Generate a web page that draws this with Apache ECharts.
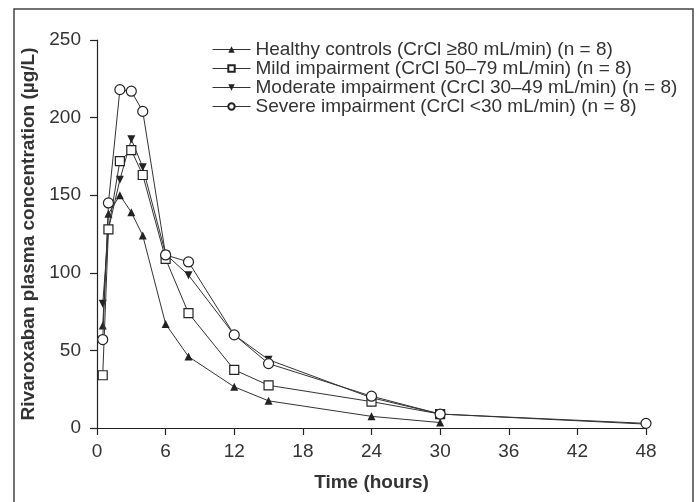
<!DOCTYPE html>
<html>
<head>
<meta charset="utf-8">
<script src="https://cdn.jsdelivr.net/npm/echarts@6/dist/echarts.min.js"></script>
<style>
  html, body { margin: 0; padding: 0; background: #fff; }
  #chart { width: 696px; height: 502px; }
</style>
</head>
<body>
<div id="chart"></div>
<script>
// sampling times (hours)
const times = [0.5, 1, 2, 3, 4, 6, 8, 12, 15, 24, 30, 48];

// mean plasma concentrations (µg/L)
const healthy  = [66, 138, 150, 139, 124, 67, 46, 26.5, 17.5, 7.5, 3.5, null];
const mild     = [34, 128, 172, 179, 163, 109, 74, 37.5, 27.5, 17, 9, null];
const moderate = [80, 128, 160, 186, 168, 112, 98.5, 60, 44, 19.5, 9, 2.5];
const severe   = [57, 145, 218, 217, 204, 111.5, 107, 60, 41.5, 20.5, 9, 3];

const groupNames = [
    'Healthy controls (CrCl \u226580 mL/min) (n = 8)',
    'Mild impairment (CrCl 50\u201379 mL/min) (n = 8)',
    'Moderate impairment (CrCl 30\u201349 mL/min) (n = 8)',
    'Severe impairment (CrCl <30 mL/min) (n = 8)'
];

const xTicks = { min: 0, max: 48, interval: 6 };
const yTicks = { min: 0, max: 250, interval: 50 };

const ink = '#222';
const font = 'Liberation Sans, Arial, Helvetica, sans-serif';

function pairs(vals) {
    return times.map((t, i) => [t, vals[i]]).filter(p => p[1] != null);
}

function makeSeries(name, vals, symbol, size, hollow) {
    return {
        name: name,
        type: 'line',
        data: pairs(vals),
        symbol: symbol,
        symbolSize: size,
        showAllSymbol: true,
        lineStyle: { color: '#333', width: 1 },
        itemStyle: hollow
            ? { color: '#fff', borderColor: ink, borderWidth: 1.2 }
            : { color: ink, borderColor: ink, borderWidth: 0 },
        emphasis: { disabled: true },
        z: hollow ? 3 : 2
    };
}

const chart = echarts.init(document.getElementById('chart'));
chart.setOption({
    animation: false,
    backgroundColor: '#fff',
    textStyle: { fontFamily: font },
    graphic: [{
        type: 'rect',
        shape: { x: 14, y: 9, width: 679, height: 520 },
        style: { fill: 'none', stroke: '#444', lineWidth: 1.5 },
        silent: true
    }],
    grid: { left: 97, right: 50, top: 40, bottom: 74 },
    legend: {
        left: 207,
        top: 35,
        orient: 'vertical',
        itemWidth: 38,
        itemHeight: 8,
        itemGap: 0,
        lineStyle: { width: 1 },
        textStyle: { fontSize: 19, color: '#333', lineHeight: 18, fontFamily: font },
        data: groupNames
    },
    xAxis: {
        type: 'value',
        min: xTicks.min,
        max: xTicks.max,
        interval: xTicks.interval,
        name: 'Time (hours)',
        nameLocation: 'middle',
        nameGap: 45,
        nameTextStyle: { fontSize: 19, fontWeight: 'bold', color: '#333', fontFamily: font },
        axisLine: { lineStyle: { color: ink, width: 1.2 } },
        axisTick: { length: 7, lineStyle: { color: ink, width: 1.2 } },
        axisLabel: { fontSize: 19, color: '#333', margin: 14 },
        splitLine: { show: false }
    },
    yAxis: {
        type: 'value',
        min: yTicks.min,
        max: yTicks.max,
        interval: yTicks.interval,
        name: 'Rivaroxaban plasma concentration (\u00b5g/L)',
        nameLocation: 'middle',
        nameGap: 58,
        nameTextStyle: { fontSize: 19, fontWeight: 'bold', color: '#333', fontFamily: font },
        axisLine: { show: true, lineStyle: { color: ink, width: 1.2 } },
        axisTick: { show: true, length: 7, lineStyle: { color: ink, width: 1.2 } },
        axisLabel: { fontSize: 19, color: '#333', margin: 16 },
        splitLine: { show: false }
    },
    series: [
        makeSeries(groupNames[0], healthy, 'triangle', 8, false),
        makeSeries(groupNames[1], mild, 'rect', 9, true),
        makeSeries(groupNames[2], moderate, 'path://M0,0 L10,0 L5,9 Z', 8, false),
        makeSeries(groupNames[3], severe, 'circle', 10, true)
    ]
});
</script>
</body>
</html>
